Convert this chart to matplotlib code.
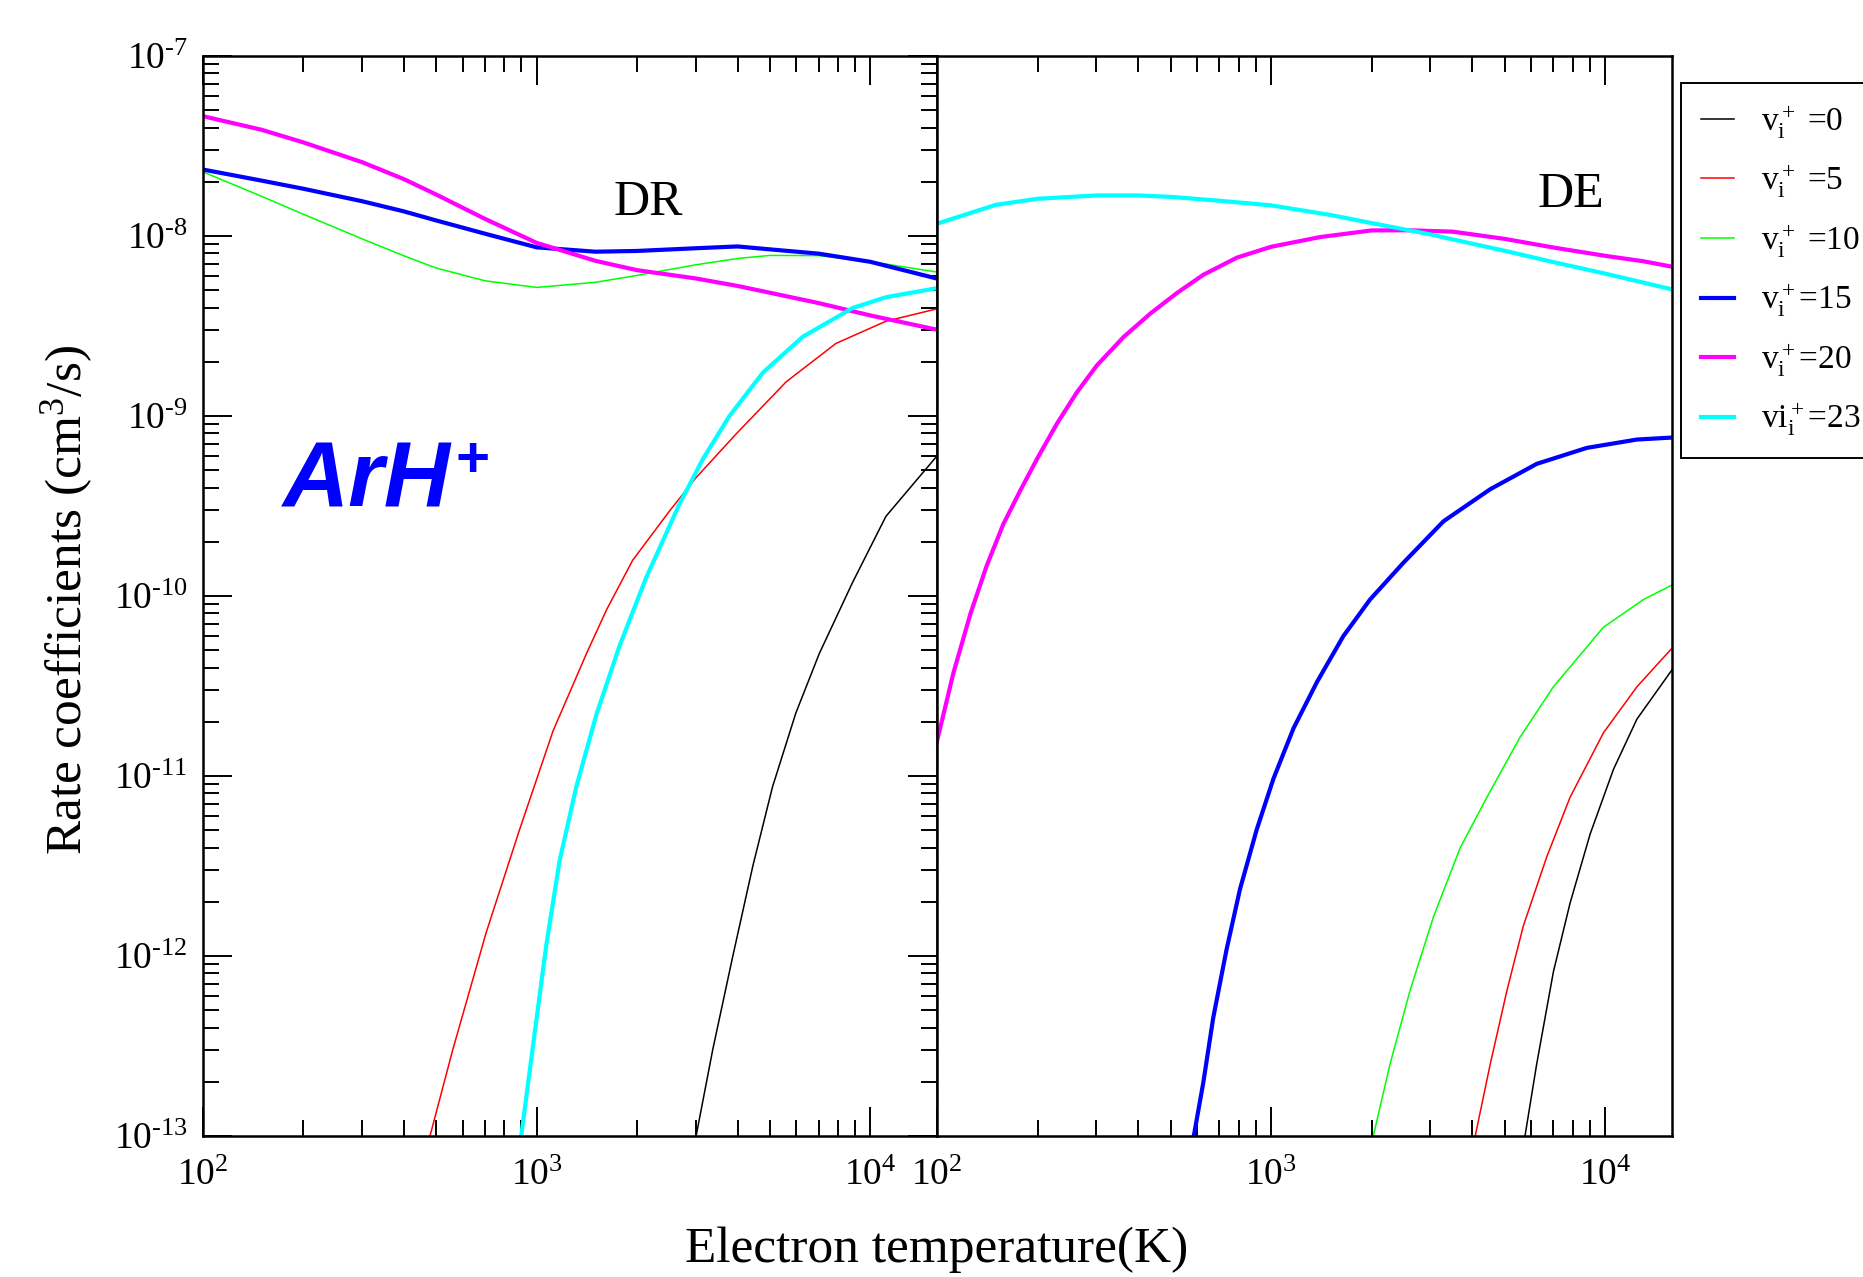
import matplotlib
matplotlib.use("Agg")
import matplotlib.pyplot as plt
from matplotlib.ticker import LogLocator, NullFormatter, FuncFormatter
import numpy as np

plt.rcParams["font.family"] = ["Liberation Serif", "DejaVu Serif"]
plt.rcParams["mathtext.fontset"] = "custom"
plt.rcParams["mathtext.rm"] = "Liberation Serif"
plt.rcParams["mathtext.it"] = "Liberation Serif:italic"

# ---- DR (dissociative recombination) rate coefficients, cm^3/s ----
dr_T_v0 = [3006, 3373, 3873, 4446, 5093, 5984, 7031, 8851, 11140, 15850]
dr_k_v0 = [1e-13, 3.03e-13, 1e-12, 3.16e-12, 8.7e-12, 2.24e-11, 4.78e-11,
           1.19e-10, 2.77e-10, 6.0e-10]

dr_T_v5 = [479, 561, 706, 889, 1120, 1410, 1620, 1940, 2500, 3000, 3960,
           5600, 7890, 11140, 15850]
dr_k_v5 = [1e-13, 3.03e-13, 1.35e-12, 5.04e-12, 1.78e-11, 4.78e-11, 8.38e-11,
           1.58e-10, 2.96e-10, 4.53e-10, 7.94e-10, 1.55e-9, 2.53e-9, 3.36e-9,
           3.94e-9]

grid_T = [100, 150, 200, 300, 400, 500, 700, 1000, 1500, 2000, 3000, 4000,
          5000, 7000, 10000, 15800]
dr_k_v10 = [2.27e-8, 1.66e-8, 1.32e-8, 9.64e-9, 7.76e-9, 6.64e-9, 5.64e-9,
            5.18e-9, 5.53e-9, 6.04e-9, 6.92e-9, 7.5e-9, 7.8e-9, 7.78e-9,
            7.21e-9, 6.31e-9]
dr_k_v15 = [2.34e-8, 2.03e-8, 1.83e-8, 1.56e-8, 1.37e-8, 1.22e-8, 1.03e-8,
            8.65e-9, 8.18e-9, 8.26e-9, 8.55e-9, 8.75e-9, 8.43e-9, 7.98e-9,
            7.19e-9, 5.81e-9]
dr_k_v20 = [4.63e-8, 3.89e-8, 3.31e-8, 2.57e-8, 2.07e-8, 1.70e-8, 1.245e-8,
            9.16e-9, 7.28e-9, 6.46e-9, 5.81e-9, 5.28e-9, 4.84e-9, 4.24e-9,
            3.62e-9, 3.02e-9]

dr_T_v23 = [899, 975, 1069, 1172, 1315, 1510, 1770, 2128, 2679, 3148, 3784,
            4764, 6266, 8851, 11140, 15850]
dr_k_v23 = [1e-13, 3.16e-13, 1.15e-12, 3.39e-12, 8.71e-12, 2.19e-11, 5.25e-11,
            1.26e-10, 3.24e-10, 5.75e-10, 1e-9, 1.74e-9, 2.75e-9, 3.98e-9,
            4.57e-9, 5.13e-9]

# ---- DE (dissociative excitation) rate coefficients, cm^3/s ----
de_T_v0 = [5754, 6237, 6998, 7852, 9016, 10590, 12445, 15850]
de_k_v0 = [1e-13, 2.51e-13, 8.17e-13, 1.97e-12, 4.76e-12, 1.09e-11, 2.07e-11,
           3.89e-11]

de_T_v5 = [4083, 4529, 5082, 5689, 6683, 7852, 9886, 12445, 15850]
de_k_v5 = [1e-13, 2.51e-13, 6.44e-13, 1.47e-12, 3.55e-12, 7.62e-12, 1.74e-11,
           3.13e-11, 5.13e-11]

de_T_v10 = [2023, 2270, 2606, 3062, 3681, 4426, 5559, 6998, 9886, 13030,
            15850]
de_k_v10 = [1e-13, 2.51e-13, 6.44e-13, 1.65e-12, 3.99e-12, 7.62e-12, 1.64e-11,
            3.13e-11, 6.71e-11, 9.57e-11, 1.15e-10]

de_T_v15 = [587, 627, 671, 736, 807, 906, 1016, 1167, 1371, 1644, 1977, 2489,
            3281, 4529, 6237, 8810, 12445, 15850]
de_k_v15 = [1e-13, 1.99e-13, 4.53e-13, 1.09e-12, 2.35e-12, 5.05e-12, 9.64e-12,
            1.84e-11, 3.32e-11, 5.97e-11, 9.55e-11, 1.53e-10, 2.6e-10, 3.92e-10,
            5.42e-10, 6.65e-10, 7.4e-10, 7.59e-10]

de_T_v20 = [100, 112, 126, 141, 158, 178, 200, 229, 262, 301, 362, 436, 524,
            628, 791, 1000, 1400, 2000, 2600, 3500, 5000, 7000, 10000, 13000,
            15800]
de_k_v20 = [1.56e-11, 3.74e-11, 8.0e-11, 1.48e-10, 2.51e-10, 3.89e-10,
            5.85e-10, 9.12e-10, 1.35e-9, 1.91e-9, 2.75e-9, 3.72e-9, 4.84e-9,
            6.1e-9, 7.59e-9, 8.71e-9, 9.86e-9, 1.074e-8, 1.076e-8, 1.057e-8,
            9.64e-9, 8.63e-9, 7.76e-9, 7.24e-9, 6.76e-9]

de_k_v23 = [1.17e-8, 1.49e-8, 1.61e-8, 1.68e-8, 1.68e-8, 1.65e-8, 1.57e-8,
            1.48e-8, 1.31e-8, 1.18e-8, 1.02e-8, 9.06e-9, 8.28e-9, 7.16e-9,
            6.18e-9, 5.06e-9]

labels = [r"v$_{\rm i}^{\rm +}$ =0", r"v$_{\rm i}^{\rm +}$ =5",
          r"v$_{\rm i}^{\rm +}$ =10", r"v$_{\rm i}^{\rm +}$=15",
          r"v$_{\rm i}^{\rm +}$=20", r"vi$_{\rm i}^{\rm +}$=23"]
colors = ["black", "#ff0000", "#00ff00", "#0000ff", "#ff00ff", "#00ffff"]
widths = [1.1, 1.1, 1.1, 3.0, 3.0, 3.0]

dr_curves = [(dr_T_v0, dr_k_v0), (dr_T_v5, dr_k_v5), (grid_T, dr_k_v10),
             (grid_T, dr_k_v15), (grid_T, dr_k_v20), (dr_T_v23, dr_k_v23)]
de_curves = [(de_T_v0, de_k_v0), (de_T_v5, de_k_v5), (de_T_v10, de_k_v10),
             (de_T_v15, de_k_v15), (de_T_v20, de_k_v20), (grid_T, de_k_v23)]


def pow10(v, pos):
    e = int(round(np.log10(v)))
    if e < 0:
        return r"$10^{\text{-}%d}$" % (-e)
    return r"$10^{%d}$" % e


W, H = 1863, 1277
fig = plt.figure(figsize=(W / 100, H / 100), dpi=100)
bottom = 1 - 1136 / H
height = 1080 / H
ax1 = fig.add_axes([203 / W, bottom, 734 / W, height])
ax2 = fig.add_axes([937 / W, bottom, 735 / W, height])

for ax, curves in ((ax1, dr_curves), (ax2, de_curves)):
    for (T, k), c, lw, lab in zip(curves, colors, widths, labels):
        ax.plot(T, k, color=c, lw=lw, label=lab, solid_joinstyle="round")
    ax.set_xscale("log")
    ax.set_yscale("log")
    ax.set_xlim(100, 10 ** 4.2)
    ax.set_ylim(1e-13, 1e-7)
    ax.xaxis.set_minor_locator(LogLocator(base=10, subs=range(2, 10), numticks=20))
    ax.yaxis.set_minor_locator(LogLocator(base=10, subs=range(2, 10), numticks=20))
    ax.xaxis.set_major_formatter(FuncFormatter(pow10))
    ax.yaxis.set_major_formatter(FuncFormatter(pow10))
    ax.xaxis.set_minor_formatter(NullFormatter())
    ax.yaxis.set_minor_formatter(NullFormatter())
    for s in ax.spines.values():
        s.set_linewidth(1.8)
    ax.tick_params(which="both", direction="in", width=1.4, labelsize=27)
    ax.tick_params(which="major", length=21)
    ax.tick_params(which="minor", length=11.5)
    ax.tick_params(axis="x", pad=16)
    ax.tick_params(axis="y", pad=11)

ax1.tick_params(which="both", top=True, right=True)
ax2.tick_params(which="both", top=True, left=False, right=False, labelleft=False)

ax1.text(0.559, 0.853, "DR", transform=ax1.transAxes, fontsize=36,
         ha="left", va="baseline")
ax2.text(0.817, 0.860, "DE", transform=ax2.transAxes, fontsize=36,
         ha="left", va="baseline")

fig.text(283 / W, 1 - 507 / H, "ArH", color="#0000ff", fontsize=66,
         family="Liberation Sans", weight="bold", style="italic",
         ha="left", va="baseline")
fig.text(456 / W, 1 - 462 / H, "+", color="#0000ff", fontsize=42,
         family="Liberation Sans", weight="bold", ha="left", va="center")

fig.text(937 / W, 0.012, "Electron temperature(K)", fontsize=37,
         ha="center", va="baseline")
fig.text(0.036, 0.53, r"Rate coefficients (cm$^{3}$/s)", fontsize=37,
         rotation=90, ha="center", va="center")

handles, labs = ax1.get_legend_handles_labels()
leg = fig.legend(handles, labs, loc="upper left",
                 bbox_to_anchor=(1681 / W, 1 - 83 / H), fontsize=24,
                 frameon=True, fancybox=False, edgecolor="black",
                 framealpha=1, handlelength=1.0, handletextpad=0.8,
                 labelspacing=0.66, borderpad=0.6, borderaxespad=0)
leg.get_frame().set_linewidth(1.4)

fig.savefig("out.png", dpi=100)
